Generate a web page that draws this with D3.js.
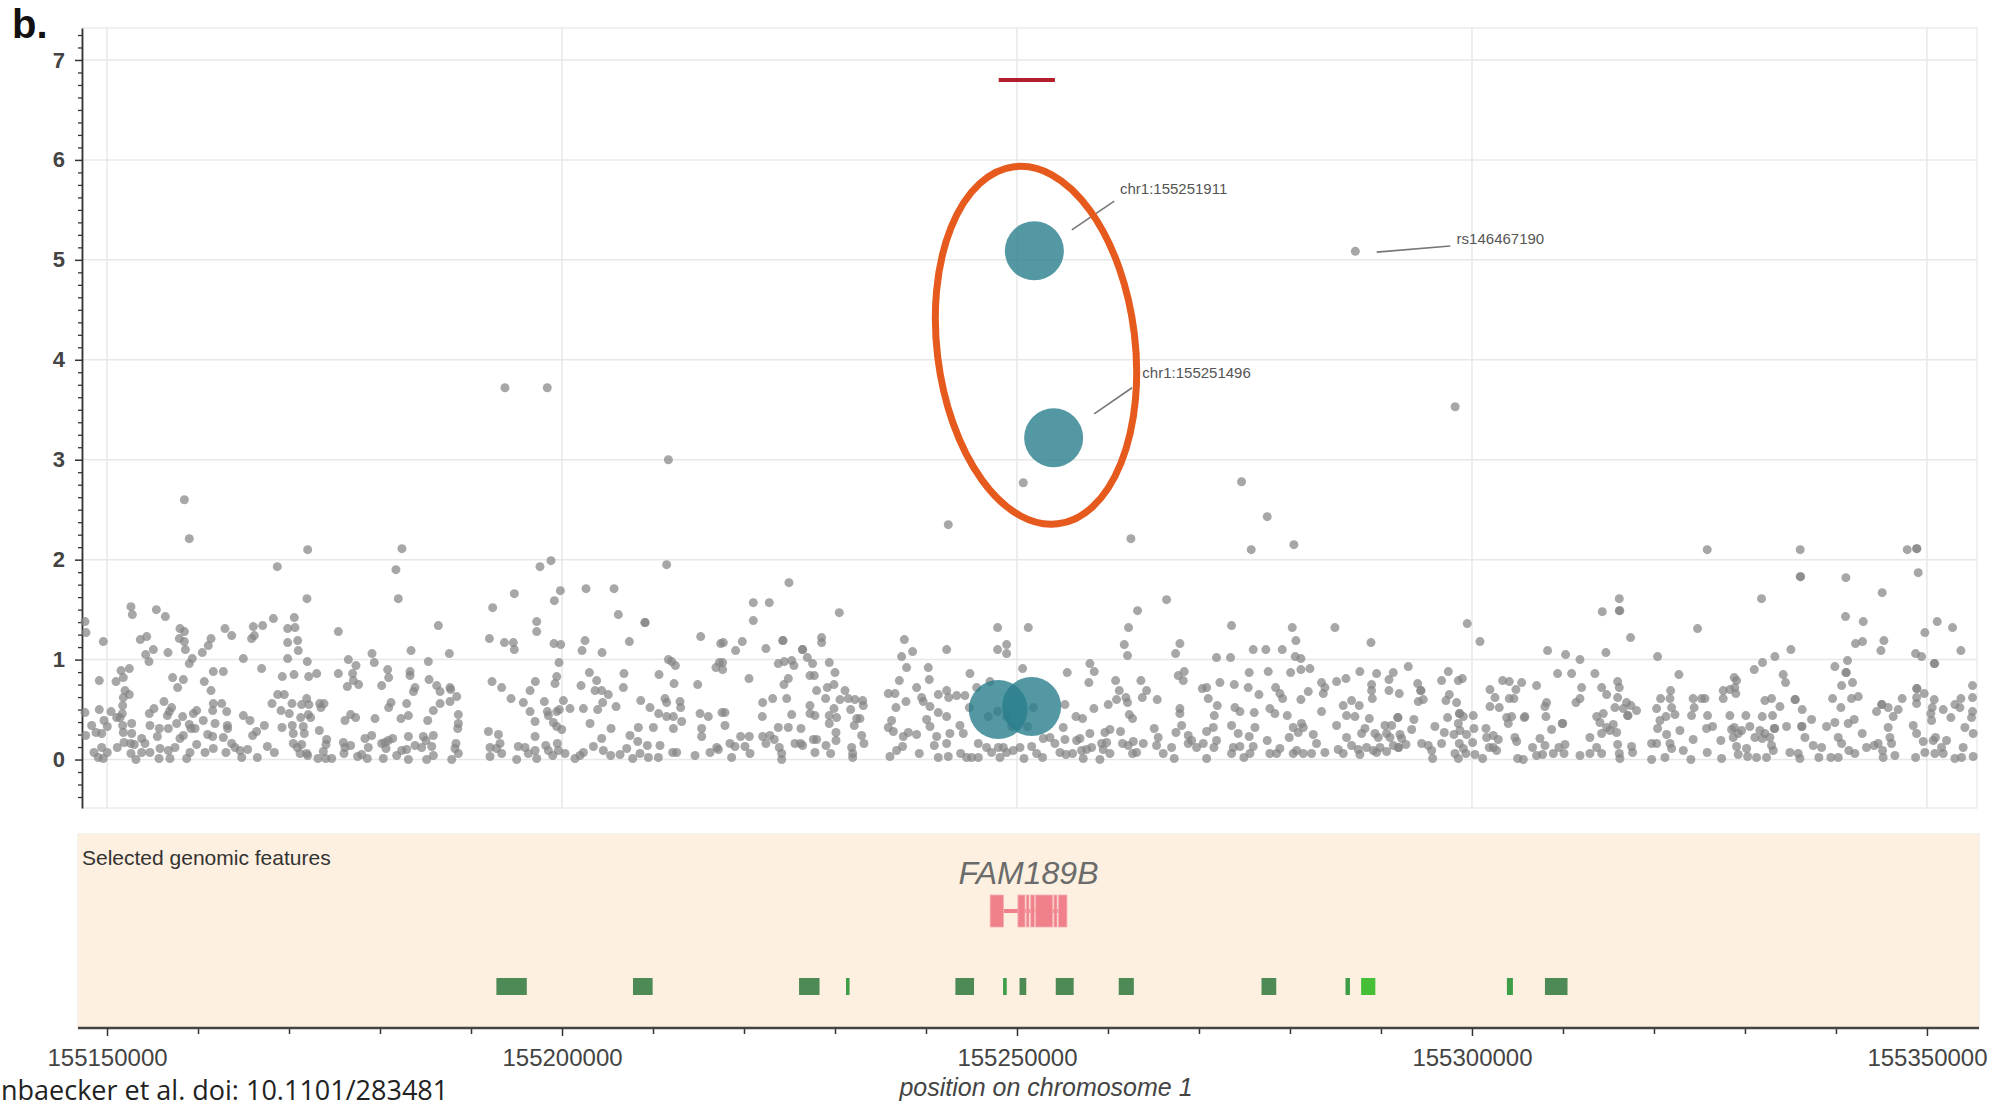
<!DOCTYPE html>
<html>
<head>
<meta charset="utf-8">
<script src="https://cdn.jsdelivr.net/npm/d3@7/dist/d3.min.js"></script>
<style>
  html, body { margin: 0; padding: 0; background: #ffffff; }
  svg { display: block; }
</style>
</head>
<body>
<svg id="chart" width="2005" height="1107"></svg>
<script>
// ---------------------------------------------------------------------------
// Data: association signal around FAM189B on chromosome 1.
// Positions are given in kb above 155,000,000 bp.
// ---------------------------------------------------------------------------
const KB_OFFSET = 155000;
const xDomainKb = [147.25, 355.5];
const yDomain = [-0.485, 7.32];
const xTickValues = [155150000, 155200000, 155250000, 155300000, 155350000];
const yTickValues = [0, 1, 2, 3, 4, 5, 6, 7];

// [position (kb), -log10 p] for every tested variant
const snpPoints = [
  [158.50,2.60],[159.04,2.21],[172.05,2.10],[168.71,1.93],[171.97,1.61],[182.41,2.11],[181.75,1.90],[182.01,1.61],
  [147.58,1.38],[147.69,1.27],[149.59,1.18],[152.63,1.53],[152.78,1.45],[155.42,1.50],[156.41,1.43],[153.66,1.20],
  [154.36,1.23],[154.25,1.05],[155.09,1.10],[154.61,0.98],[156.70,1.07],[158.02,1.31],[158.50,1.28],[157.95,1.21],
  [158.50,1.18],[158.61,1.10],[159.37,1.01],[159.04,0.96],[160.47,1.07],[161.13,1.14],[161.43,1.21],[162.96,1.31],
  [163.70,1.24],[164.98,1.01],[166.08,1.33],[165.89,1.21],[166.19,1.24],[167.10,1.34],[168.28,1.41],[169.85,1.31],
  [170.58,1.42],[170.66,1.32],[169.85,1.17],[170.95,1.19],[171.02,1.09],[169.85,1.01],[172.01,0.98],[175.42,1.28],
  [176.52,1.00],[177.36,0.94],[179.12,1.06],[179.37,0.97],[166.99,0.91],
  [149.15,0.79],[151.54,0.89],[152.45,0.91],[151.79,0.82],[150.99,0.78],[151.98,0.69],[152.45,0.65],[151.79,0.62],
  [151.72,0.54],[151.68,0.46],[151.43,0.42],[151.06,0.42],[150.44,0.48],[149.15,0.50],[147.58,0.47],[161.68,0.88],
  [162.78,0.88],[157.21,0.82],[158.39,0.80],[157.76,0.72],[160.69,0.78],[161.43,0.69],[161.68,0.56],[162.60,0.56],
  [156.26,0.58],[155.16,0.51],[154.65,0.46],[157.10,0.52],[156.85,0.48],[156.63,0.44],[159.85,0.49],[159.48,0.46],
  [161.61,0.49],[163.15,0.48],[164.98,0.44],[165.71,0.39],[169.26,0.83],[170.55,0.85],[168.75,0.65],[169.48,0.65],
  [168.13,0.56],[169.12,0.49],[170.33,0.56],[170.03,0.46],[171.39,0.55],[171.94,0.61],[172.19,0.55],[172.12,0.45],
  [171.28,0.42],[172.38,0.42],[173.04,0.86],[172.16,0.83],[175.42,0.86],[176.41,0.73],[176.99,0.86],[177.07,0.79],
  [177.65,0.75],[173.37,0.56],[173.84,0.56],[173.51,0.52],[180.18,0.74],[180.95,0.82],[180.84,0.90],[181.21,0.57],
  [180.95,0.52],[182.30,0.41],[179.45,0.41],[176.15,0.39],[176.77,0.45],[177.32,0.42],
  [147.65,0.24],[148.31,0.34],[148.79,0.27],[149.41,0.26],[149.67,0.39],[150.03,0.33],[148.57,0.07],[149.41,0.12],
  [149.04,0.02],[149.59,0.01],[150.03,0.07],[151.13,0.12],[151.72,0.34],[151.79,0.27],[152.71,0.36],[152.71,0.26],
  [151.87,0.17],[152.60,0.16],[153.00,0.15],[152.63,0.06],[153.18,0.00],[153.81,0.21],[154.17,0.16],[153.81,0.07],
  [154.72,0.07],[154.72,0.34],[155.53,0.23],[155.75,0.31],[155.82,0.11],[155.71,0.01],[156.74,0.31],[156.74,0.09],
  [156.92,0.01],[157.47,0.12],[157.65,0.36],[158.02,0.21],[158.39,0.24],[158.31,0.43],[159.04,0.35],[159.23,0.31],
  [159.67,0.31],[159.85,0.15],[159.12,0.07],[158.75,0.01],[160.58,0.39],[161.06,0.25],[161.61,0.23],[161.87,0.36],
  [162.78,0.22],[163.22,0.34],[163.26,0.31],[160.77,0.07],[161.68,0.11],[163.07,0.07],[163.70,0.16],[164.06,0.12],
  [164.61,0.09],[164.80,0.02],[165.45,0.10],[166.00,0.24],[166.44,0.28],[167.29,0.34],[166.52,0.02],[167.62,0.13],
  [168.39,0.07],[169.23,0.32],[170.36,0.34],[170.47,0.26],[171.57,0.33],[171.68,0.26],[170.47,0.16],[170.91,0.12],
  [171.39,0.15],[171.21,0.06],[171.94,0.06],[172.05,0.04],[173.33,0.29],[174.14,0.20],[174.06,0.15],[173.77,0.08],
  [173.18,0.01],[174.03,0.01],[174.69,0.01],[175.97,0.17],[176.15,0.12],[176.77,0.14],[176.04,0.06],[177.54,0.03],
  [177.98,0.05],[178.35,0.21],[179.08,0.24],[178.71,0.12],[178.60,0.01],[180.18,0.16],[180.55,0.17],[180.91,0.19],
  [181.39,0.21],[180.66,0.11],[180.36,0.01],[181.83,0.04],[182.38,0.09],
  [211.69,3.00],[193.73,3.72],[198.38,3.72],
  [197.58,1.93],[198.79,1.99],[211.50,1.95],[199.82,1.69],[199.16,1.59],[194.76,1.66],[192.38,1.52],[202.64,1.71],
  [205.72,1.71],[206.19,1.45],[209.10,1.37],[209.14,1.37],[186.41,1.34],[197.22,1.38],[197.22,1.28],[192.02,1.21],
  [193.67,1.17],[194.65,1.17],[194.76,1.10],[199.12,1.16],[199.86,1.15],[202.53,1.19],[202.20,1.09],[204.40,1.07],
  [207.40,1.18],[215.24,1.23],[217.44,1.16],[183.41,1.09],[187.62,1.06],[185.31,0.98],[199.67,0.97],[211.69,1.00],
  [212.05,0.98],[212.46,0.94],[216.92,0.92],[217.29,0.97],
  [183.30,0.88],[183.30,0.84],[185.39,0.80],[183.85,0.72],[183.67,0.68],[186.23,0.74],[186.60,0.68],[187.69,0.72],
  [187.77,0.70],[188.43,0.63],[187.69,0.58],[186.60,0.56],[185.86,0.49],[182.93,0.56],[183.12,0.44],[185.24,0.39],
  [192.31,0.78],[193.37,0.72],[194.40,0.61],[195.75,0.57],[196.49,0.69],[197.07,0.78],[198.06,0.58],[196.49,0.48],
  [197.04,0.38],[199.42,0.83],[199.23,0.76],[198.39,0.48],[198.50,0.44],[199.42,0.48],[199.71,0.50],[200.15,0.59],
  [200.88,0.51],[199.05,0.37],[199.42,0.33],[199.97,0.30],[202.09,0.74],[203.01,0.87],[203.81,0.79],[203.63,0.69],
  [204.36,0.69],[205.09,0.65],[206.81,0.86],[206.74,0.72],[202.35,0.51],[203.92,0.50],[204.47,0.57],[205.94,0.53],
  [203.08,0.36],[208.65,0.59],[209.67,0.52],[210.66,0.85],[212.31,0.76],[211.32,0.61],[211.50,0.57],[212.97,0.58],
  [213.04,0.52],[210.62,0.46],[211.50,0.43],[212.24,0.43],[213.15,0.38],[214.91,0.75],[215.17,0.46],[216.08,0.43],
  [217.58,0.47],
  [183.12,0.23],[183.85,0.14],[182.93,0.10],[183.12,0.00],[184.76,0.23],[185.06,0.19],[185.86,0.24],[184.58,0.12],
  [185.68,0.13],[185.13,0.00],[185.86,0.04],[188.61,0.45],[188.61,0.36],[188.54,0.31],[188.35,0.16],[188.24,0.11],
  [188.61,0.06],[187.88,0.00],[191.91,0.28],[193.01,0.25],[192.09,0.12],[193.19,0.16],[192.82,0.11],[192.09,0.03],
  [193.37,0.06],[195.02,0.00],[195.20,0.13],[195.94,0.12],[196.30,0.06],[197.04,0.23],[197.04,0.09],[197.22,0.01],
  [198.21,0.14],[198.50,0.09],[198.98,0.04],[199.49,0.16],[199.60,0.09],[200.33,0.06],[201.43,0.01],[201.98,0.04],
  [202.35,0.07],[203.45,0.13],[204.36,0.21],[204.54,0.09],[205.39,0.31],[205.35,0.04],[206.38,0.05],[207.11,0.11],
  [207.47,0.24],[207.77,0.01],[208.39,0.32],[208.32,0.18],[208.57,0.06],[209.49,0.02],[209.38,0.14],[210.04,0.32],
  [210.77,0.14],[210.59,0.02],[212.24,0.31],[212.16,0.07],[212.60,0.07],[214.62,0.04],[215.35,0.31],[215.35,0.23],
  [216.27,0.07],[217.00,0.12],[217.18,0.10],
  [250.69,2.77],[242.45,2.35],[224.94,1.77],[221.02,1.57],[222.78,1.57],[221.02,1.39],[230.47,1.47],[217.73,1.17],
  [219.08,1.09],[219.81,1.18],[222.41,1.11],[224.25,1.19],[224.30,1.19],[226.41,1.10],[226.45,1.10],[228.53,1.22],
  [228.53,1.17],[237.62,1.20],[237.32,1.03],[238.53,1.08],[242.27,1.10],[247.87,1.32],[251.24,1.32],[247.87,1.10],
  [248.86,1.15],[248.86,1.06],[217.65,0.97],[217.65,0.90],[223.77,0.96],[224.43,0.98],[225.24,0.99],[225.49,0.94],
  [226.96,1.02],[227.54,0.96],[229.37,0.97],[230.00,0.87],[227.25,0.84],[227.73,0.84],[220.55,0.81],[224.87,0.81],
  [224.39,0.75],[227.98,0.69],[229.15,0.72],[229.89,0.75],[231.10,0.69],[237.87,0.92],[240.25,0.92],[240.36,0.80],
  [237.07,0.79],[238.97,0.72],[244.83,0.86],[250.62,0.91],
  [222.05,0.57],[223.15,0.61],[224.69,0.61],[228.97,0.61],[230.55,0.60],[231.46,0.61],[232.20,0.60],[233.04,0.59],
  [233.11,0.54],[217.91,0.47],[222.01,0.43],[225.24,0.45],[227.25,0.54],[227.25,0.46],[227.80,0.44],[229.37,0.44],
  [229.89,0.51],[230.18,0.42],[231.72,0.50],[232.38,0.41],[232.74,0.41],[235.86,0.66],[236.59,0.66],[236.70,0.52],
  [237.80,0.58],[239.52,0.62],[239.70,0.58],[240.44,0.53],[241.35,0.65],[242.27,0.69],[242.49,0.62],[243.37,0.64],
  [244.28,0.64],[241.35,0.47],[242.27,0.43],[244.76,0.52],[245.57,0.72],[247.03,0.78],
  [217.91,0.34],[218.46,0.16],[219.01,0.13],[218.64,0.02],[219.63,0.23],[220.58,0.23],[220.11,0.13],[220.66,0.06],
  [222.05,0.23],[222.85,0.24],[222.41,0.16],[223.33,0.20],[223.88,0.12],[223.77,0.32],[224.14,0.06],[224.14,0.00],
  [224.87,0.32],[225.60,0.16],[226.26,0.31],[226.22,0.16],[226.44,0.14],[227.62,0.20],[227.98,0.20],[227.80,0.07],
  [229.01,0.14],[229.37,0.36],[229.52,0.06],[230.11,0.27],[230.11,0.19],[231.83,0.12],[231.94,0.06],[231.94,0.02],
  [232.93,0.24],[233.18,0.16],[232.12,0.34],[235.86,0.32],[236.22,0.39],[236.41,0.28],[236.04,0.03],[236.77,0.09],
  [237.43,0.13],[237.51,0.23],[238.06,0.27],[238.97,0.25],[239.26,0.06],[240.07,0.40],[240.44,0.33],[240.91,0.14],
  [241.17,0.23],[241.35,0.02],[242.45,0.03],[242.63,0.26],[242.27,0.16],[243.73,0.34],[244.10,0.26],[243.81,0.06],
  [244.47,0.02],[245.02,0.02],[245.75,0.02],[245.75,0.16],[246.66,0.12],[247.21,0.07],[247.95,0.12],[248.50,0.12],
  [248.86,0.07],[248.13,0.02],[249.59,0.09],[250.33,0.12],[250.77,0.01],[251.61,0.13],[252.16,0.06],[246.85,0.43],
  [247.87,0.48],[248.86,0.43],[249.41,0.33],[251.17,0.33],[251.79,0.52],
  [274.68,2.78],[277.50,2.43],[275.74,2.10],[280.43,2.15],[262.52,2.21],[266.44,1.60],[263.25,1.49],[262.26,1.32],
  [273.58,1.34],[280.25,1.32],[284.94,1.32],[261.79,1.15],[262.15,1.04],[267.90,1.16],[267.43,1.06],[275.96,1.10],
  [277.35,1.10],[279.15,1.10],[280.65,1.19],[271.93,1.02],[273.47,1.02],[280.58,1.03],[281.20,1.01],[258.01,0.96],
  [258.49,0.88],[255.52,0.87],[275.52,0.87],[277.61,0.88],[280.07,0.87],[281.20,0.90],[282.19,0.91],[287.68,0.88],
  [257.90,0.77],[260.84,0.79],[261.24,0.69],[263.62,0.79],[264.24,0.69],[263.77,0.62],[260.94,0.60],[261.97,0.62],
  [262.15,0.57],[265.41,0.60],[260.03,0.55],[258.45,0.51],[255.27,0.55],[267.72,0.84],[268.27,0.79],[268.38,0.88],
  [270.36,0.71],[270.84,0.72],[272.30,0.77],[273.88,0.75],[275.41,0.72],[276.59,0.65],[278.42,0.72],[278.89,0.66],
  [279.19,0.61],[281.20,0.60],[282.01,0.68],[283.47,0.77],[283.84,0.72],[283.66,0.66],[285.12,0.78],[286.15,0.81],
  [271.02,0.61],[272.01,0.54],[267.90,0.51],[267.90,0.46],[262.34,0.45],[262.70,0.41],[256.48,0.43],[257.21,0.41],
  [271.68,0.44],[273.95,0.52],[274.50,0.48],[276.07,0.47],[277.79,0.51],[278.34,0.46],[279.70,0.44],[283.47,0.48],
  [285.85,0.54],[286.77,0.59],[286.22,0.44],[287.14,0.43],[287.61,0.54],
  [252.89,0.21],[253.62,0.22],[254.17,0.16],[255.08,0.32],[255.27,0.20],[254.72,0.07],[255.38,0.05],[256.11,0.06],
  [252.81,0.02],[256.55,0.19],[256.92,0.21],[257.10,0.09],[258.01,0.26],[258.20,0.12],[257.65,0.10],[257.28,0.01],
  [259.11,0.00],[259.30,0.16],[259.66,0.27],[260.21,0.30],[259.85,0.17],[260.21,0.06],[259.48,0.10],[261.38,0.28],
  [261.60,0.16],[262.23,0.14],[262.78,0.18],[263.14,0.07],[262.70,0.06],[263.88,0.16],[265.08,0.31],[265.52,0.22],
  [265.34,0.14],[266.07,0.06],[266.99,0.12],[267.28,0.01],[267.47,0.27],[268.09,0.34],[268.82,0.24],[268.82,0.16],
  [269.74,0.12],[269.19,0.19],[270.47,0.16],[270.84,0.01],[270.84,0.28],[271.57,0.32],[271.93,0.19],[271.64,0.12],
  [273.58,0.34],[274.31,0.26],[273.77,0.12],[273.58,0.06],[274.50,0.13],[274.94,0.02],[275.52,0.23],[275.60,0.06],
  [276.15,0.32],[275.96,0.13],[277.50,0.19],[277.79,0.06],[278.89,0.11],[278.53,0.06],[279.92,0.22],[280.36,0.32],
  [280.91,0.27],[281.27,0.36],[281.46,0.32],[280.36,0.06],[280.73,0.09],[281.46,0.06],[282.56,0.25],[282.37,0.06],
  [282.92,0.16],[283.84,0.07],[285.30,0.10],[285.85,0.06],[285.12,0.34],[286.22,0.22],[286.77,0.14],[287.50,0.10],
  [287.68,0.05],
  [287.18,5.085],[298.15,3.53],
  [316.19,1.61],[316.19,1.49],[316.25,1.49],[314.32,1.48],[317.43,1.22],[299.48,1.36],[300.88,1.18],[288.90,1.17],
  [308.31,1.09],[310.29,1.05],[311.87,1.00],[314.72,1.07],[320.40,1.03],[293.00,0.93],[289.52,0.86],[291.35,0.87],
  [297.40,0.88],[296.66,0.79],[298.50,0.79],[298.94,0.81],[288.97,0.75],[288.97,0.69],[289.05,0.61],[290.88,0.69],
  [290.88,0.80],[292.01,0.66],[294.03,0.76],[294.36,0.69],[294.40,0.69],[294.10,0.58],[294.65,0.60],[297.51,0.65],
  [297.14,0.59],[298.31,0.57],[303.37,0.79],[304.10,0.78],[305.46,0.77],[304.83,0.70],[301.98,0.70],[302.53,0.62],
  [304.10,0.61],[304.61,0.61],[301.98,0.53],[303.00,0.52],[307.10,0.74],[309.41,0.86],[310.95,0.86],[313.51,0.86],
  [312.05,0.72],[311.87,0.61],[311.43,0.57],[314.25,0.72],[314.80,0.65],[316.01,0.78],[316.19,0.72],[316.01,0.62],
  [316.99,0.57],[317.47,0.54],[318.09,0.49],[315.71,0.52],[316.63,0.51],[317.10,0.44],[317.15,0.44],[308.02,0.53],
  [308.20,0.57],[308.13,0.43],[305.75,0.42],[303.81,0.42],[304.36,0.43],[303.99,0.36],[313.70,0.43],[314.06,0.37],
  [314.43,0.46],[320.29,0.51],[320.73,0.61],[321.83,0.69],[321.76,0.61],[321.94,0.52],[322.31,0.45],[322.74,0.85],
  [321.32,0.43],[320.66,0.39],
  [288.72,0.41],[288.24,0.31],[287.87,0.26],[289.34,0.26],[289.70,0.22],[290.44,0.34],[290.62,0.26],[291.17,0.34],
  [290.99,0.22],[291.83,0.42],[291.88,0.42],[292.09,0.25],[292.27,0.21],[293.62,0.40],[293.37,0.30],[292.74,0.15],
  [291.90,0.12],[291.95,0.12],[291.35,0.14],[289.16,0.09],[288.42,0.12],[289.89,0.12],[290.62,0.08],[289.52,0.07],
  [294.47,0.16],[295.20,0.14],[295.57,0.09],[295.68,0.01],[296.66,0.16],[295.93,0.33],[296.96,0.27],[297.32,0.42],
  [298.02,0.25],[298.61,0.46],[298.66,0.46],[299.05,0.43],[298.50,0.36],[298.68,0.29],[299.41,0.25],[298.61,0.16],
  [299.05,0.11],[298.50,0.01],[298.13,0.06],[299.34,0.06],[300.14,0.44],[300.22,0.31],[300.07,0.17],[300.33,0.05],
  [301.17,0.01],[301.54,0.31],[301.61,0.22],[302.34,0.24],[302.34,0.12],[302.71,0.09],[301.90,0.12],[302.89,0.20],
  [304.72,0.22],[304.91,0.18],[305.02,0.01],[305.64,0.00],[305.82,0.43],[306.66,0.12],[307.47,0.21],[307.10,0.04],
  [307.76,0.05],[308.02,0.14],[308.75,0.30],[308.94,0.06],[309.56,0.12],[309.92,0.36],[309.97,0.36],[310.22,0.15],
  [310.11,0.06],[311.87,0.04],[312.96,0.22],[312.96,0.06],[313.70,0.12],[314.25,0.06],[314.25,0.26],[314.80,0.32],
  [315.16,0.29],[315.53,0.35],[315.90,0.27],[316.01,0.15],[316.19,0.06],[316.26,0.01],[317.54,0.13],[317.65,0.07],
  [319.74,0.16],[320.29,0.16],[319.74,0.00],[320.40,0.31],[321.39,0.25],[321.76,0.16],[321.21,0.02],[321.94,0.11],
  [322.85,0.29],
  [325.85,2.10],[336.07,2.10],[347.83,2.10],[348.86,2.11],[348.90,2.11],[336.07,1.83],[336.12,1.83],[341.09,1.82],
  [349.04,1.87],[331.82,1.61],[345.08,1.67],[341.05,1.43],[343.00,1.38],[324.79,1.31],[351.13,1.38],[352.81,1.32],
  [349.77,1.27],[342.15,1.16],[342.92,1.18],[345.27,1.19],[344.94,1.09],[335.05,1.10],[333.29,1.03],[331.93,0.97],
  [331.02,0.90],[353.73,1.09],[348.75,1.06],[349.41,1.03],[341.27,0.99],[339.88,0.93],[341.09,0.87],[341.14,0.87],
  [350.80,0.96],[350.85,0.96],[328.82,0.82],[329.08,0.79],[328.89,0.72],[329.00,0.66],[327.61,0.69],[328.34,0.70],
  [327.61,0.61],[324.31,0.61],[325.23,0.61],[325.60,0.61],[334.20,0.85],[334.46,0.77],[332.19,0.59],[332.92,0.61],
  [333.84,0.53],[335.49,0.60],[335.54,0.60],[336.29,0.50],[340.62,0.74],[341.82,0.77],[341.71,0.61],[342.45,0.63],
  [339.63,0.61],[340.54,0.52],[345.01,0.55],[345.06,0.55],[345.74,0.52],[344.46,0.48],[346.29,0.43],[346.84,0.50],
  [347.28,0.61],[348.86,0.71],[348.91,0.71],[349.70,0.66],[348.86,0.62],[348.86,0.56],[350.80,0.60],[350.58,0.52],
  [350.43,0.46],[350.51,0.39],[351.79,0.50],[352.63,0.42],[353.07,0.55],[353.73,0.61],[353.62,0.52],[355.01,0.74],
  [355.01,0.62],[355.01,0.48],[354.90,0.42],[324.42,0.52],[324.13,0.44],[325.89,0.44],[328.34,0.44],[330.10,0.44],
  [331.90,0.43],[333.03,0.44],
  [324.31,0.20],[323.22,0.09],[324.06,0.00],[325.78,0.31],[326.44,0.33],[325.85,0.07],[327.35,0.19],[327.43,0.01],
  [328.53,0.30],[328.82,0.32],[329.26,0.26],[328.71,0.22],[329.63,0.29],[330.54,0.33],[329.08,0.13],[329.26,0.05],
  [330.18,0.11],[330.29,0.03],[331.09,0.22],[331.64,0.29],[331.90,0.21],[332.19,0.26],[332.74,0.22],[332.92,0.14],
  [333.22,0.31],[333.27,0.31],[333.11,0.09],[332.37,0.02],[331.27,0.02],[334.57,0.33],[334.94,0.07],[335.85,0.06],
  [336.04,0.01],[336.22,0.33],[336.27,0.33],[336.59,0.22],[337.32,0.40],[337.50,0.14],[338.42,0.12],[338.12,0.02],
  [338.97,0.33],[339.88,0.37],[340.25,0.22],[340.62,0.16],[339.44,0.02],[340.25,0.02],[341.35,0.36],[342.01,0.40],
  [341.42,0.09],[342.08,0.06],[342.89,0.26],[343.36,0.12],[344.20,0.14],[344.64,0.16],[345.12,0.09],[345.19,0.02],
  [345.74,0.32],[345.93,0.22],[346.11,0.16],[346.48,0.04],[348.49,0.34],[348.86,0.26],[348.75,0.02],[349.59,0.18],
  [349.77,0.07],[350.69,0.19],[350.94,0.22],[350.87,0.06],[351.60,0.12],[351.79,0.06],[352.15,0.19],[353.07,0.01],
  [353.80,0.02],[353.98,0.12],[354.17,0.32],[355.08,0.26],[355.08,0.03]
];

// Highlighted variants (drawn as large markers)
const leadVariantPosKb = [251.91, 254.03, 247.94, 251.61];
const leadVariantLogP = [5.09, 3.22, 0.50, 0.53];

// Variant name labels
const labelTexts = ["chr1:155251911", "chr1:155251496", "rs146467190"];
const labelPosKb = [251.91, 254.03, 287.18];
const labelLogP = [5.09, 3.22, 5.085];

// Significance marker segment
const thresholdSpanKb = [247.99, 254.17];
const thresholdLogP = 6.8;

// Highlight ring around the lead signal: centre, half-extents
const ringCentreKb = 252.09, ringCentreLogP = 4.145;
const ringHalfWidthKb = 10.88, ringHalfHeightLogP = 1.80;

// Gene model (exons in kb)
const geneName = "FAM189B";
const geneExonsKb = [[247.05,248.52],[250.10,250.88],[251.02,251.32],[251.51,251.91],[252.05,253.92],[254.06,254.40],[254.56,255.49]];

// Regulatory feature track: start kb, end kb, class
const featureStartKb = [192.79, 207.80, 226.05, 231.21, 243.23, 248.47, 250.28, 254.26, 261.18, 276.87, 286.10, 287.82, 303.84, 308.02];
const featureEndKb   = [196.13, 209.96, 228.30, 231.60, 245.28, 248.87, 251.02, 256.23, 262.84, 278.49, 286.59, 289.38, 304.50, 310.50];
const featureClass   = ["region","region","region","site","region","site","region","region","region","region","site","promoter","site","region"];

// ---------------------------------------------------------------------------
const svg = d3.select("#chart");
const toBp = kb => (KB_OFFSET + kb) * 1000;

const plot = { left: 82, right: 1977, top: 28, bottom: 808 };
const x = d3.scaleLinear().domain(xDomainKb.map(toBp)).range([plot.left, plot.right]);
const y = d3.scaleLinear().domain(yDomain).range([plot.bottom, plot.top]);

const FONT = "'Liberation Sans', Arial, Helvetica, sans-serif";

// Panel letter
svg.append("text").attr("x", 12).attr("y", 38)
  .attr("font-family", FONT).attr("font-weight", "bold").attr("font-size", 40)
  .attr("fill", "#111").text("b.");

// Plot frame
svg.append("rect")
  .attr("x", plot.left).attr("y", plot.top)
  .attr("width", plot.right - plot.left).attr("height", plot.bottom - plot.top)
  .attr("fill", "#fff").attr("stroke", "#ececec").attr("stroke-width", 1.5);

// Grid
const grid = svg.append("g");
grid.selectAll("line.h").data(yTickValues).join("line")
  .attr("x1", plot.left).attr("x2", plot.right)
  .attr("y1", d => y(d)).attr("y2", d => y(d))
  .attr("stroke", "#e8e8e8").attr("stroke-width", 1.5);
grid.selectAll("line.v").data(xTickValues).join("line")
  .attr("y1", plot.top).attr("y2", plot.bottom)
  .attr("x1", d => x(d)).attr("x2", d => x(d))
  .attr("stroke", "#e8e8e8").attr("stroke-width", 1.5);

// Y axis: major and minor ticks
const minorY = d3.range(-3, 59).map(i => i * 0.125).filter(v => v >= yDomain[0] && v <= yDomain[1] && Math.abs(v - Math.round(v)) > 1e-6);
const yMinor = svg.append("g").attr("transform", `translate(${plot.left},0)`)
  .call(d3.axisLeft(y).tickValues(minorY).tickSize(4).tickSizeOuter(0).tickFormat(""));
yMinor.select(".domain").remove();
yMinor.selectAll("line").attr("stroke", "#333").attr("stroke-width", 1.3);

const yAxis = svg.append("g").attr("transform", `translate(${plot.left},0)`)
  .call(d3.axisLeft(y).tickValues(yTickValues).tickSize(7).tickSizeOuter(0).tickPadding(10).tickFormat(d3.format("d")));
yAxis.select(".domain").attr("stroke", "#333").attr("stroke-width", 1.8);
yAxis.selectAll(".tick line").attr("stroke", "#333").attr("stroke-width", 1.5);
yAxis.selectAll(".tick text")
  .attr("font-family", FONT).attr("font-size", 22).attr("font-weight", "bold").attr("fill", "#444");

// Variant points
svg.append("g").selectAll("circle").data(snpPoints).join("circle")
  .attr("cx", d => x(toBp(d[0]))).attr("cy", d => y(d[1])).attr("r", 4.5)
  .attr("fill", "#858585").attr("fill-opacity", 0.72);

// Threshold segment
svg.append("line")
  .attr("x1", x(toBp(thresholdSpanKb[0]))).attr("x2", x(toBp(thresholdSpanKb[1])))
  .attr("y1", y(thresholdLogP)).attr("y2", y(thresholdLogP))
  .attr("stroke", "#b3202c").attr("stroke-width", 4);

// Lead variants
svg.append("g").selectAll("circle").data(d3.range(leadVariantPosKb.length)).join("circle")
  .attr("cx", i => x(toBp(leadVariantPosKb[i]))).attr("cy", i => y(leadVariantLogP[i])).attr("r", 29.5)
  .attr("fill", "#297e8c").attr("fill-opacity", 0.8);

// Labels with leader lines (offsets in px relative to the marker)
const labelLayout = [
  { x1: 37.5, y1: -20.9, x2: 79.9, y2: -49.8, tx: 85.6, ty: -56.5 },
  { x1: 40.5, y1: -23.9, x2: 78.4, y2: -50.0, tx: 88.7, ty: -59.5 },
  { x1: 21.4, y1: 0.8,   x2: 95.0, y2: -5.3,  tx: 101.3, ty: -7.0 }
];
const labels = svg.append("g");
labelTexts.forEach((t, i) => {
  const px = x(toBp(labelPosKb[i])), py = y(labelLogP[i]);
  const L = labelLayout[i];
  labels.append("line")
    .attr("x1", px + L.x1).attr("y1", py + L.y1).attr("x2", px + L.x2).attr("y2", py + L.y2)
    .attr("stroke", "#777").attr("stroke-width", 1.6);
  labels.append("text").attr("x", px + L.tx).attr("y", py + L.ty)
    .attr("font-family", FONT).attr("font-size", 15).attr("fill", "#555").text(t);
});

// Highlight ring
const rcx = x(toBp(ringCentreKb)), rcy = y(ringCentreLogP);
const rrx = x(toBp(ringCentreKb + ringHalfWidthKb)) - rcx;
const rry = rcy - y(ringCentreLogP + ringHalfHeightLogP);
svg.append("ellipse")
  .attr("cx", 0).attr("cy", 0).attr("rx", rrx).attr("ry", rry)
  .attr("transform", `translate(${rcx},${rcy}) rotate(-7)`)
  .attr("fill", "none").attr("stroke", "#e65a1e").attr("stroke-width", 7);

// ---------------------------------------------------------------------------
// Genomic features panel
// ---------------------------------------------------------------------------
const panel = { left: 78, right: 1979, top: 834, bottom: 1028 };
svg.append("rect")
  .attr("x", panel.left).attr("y", panel.top)
  .attr("width", panel.right - panel.left).attr("height", panel.bottom - panel.top)
  .attr("fill", "#fdf0e0").attr("stroke", "#f6eee6").attr("stroke-width", 1.5);

svg.append("text").attr("x", 82).attr("y", 865)
  .attr("font-family", FONT).attr("font-size", 21).attr("fill", "#333")
  .text("Selected genomic features");

// Gene model
const geneTop = 895, geneH = 32;
const geneStart = d3.min(geneExonsKb, d => d[0]), geneEnd = d3.max(geneExonsKb, d => d[1]);
svg.append("text")
  .attr("x", (x(toBp(geneStart)) + x(toBp(geneEnd))) / 2).attr("y", 884)
  .attr("text-anchor", "middle").attr("font-family", FONT).attr("font-style", "italic")
  .attr("font-size", 32).attr("fill", "#6b6b6b").text(geneName);
svg.append("line")
  .attr("x1", x(toBp(geneStart))).attr("x2", x(toBp(geneEnd)))
  .attr("y1", geneTop + geneH / 2).attr("y2", geneTop + geneH / 2)
  .attr("stroke", "#f0808a").attr("stroke-width", 4);
svg.append("g").selectAll("rect").data(geneExonsKb).join("rect")
  .attr("x", d => x(toBp(d[0]))).attr("width", d => Math.max(1, x(toBp(d[1])) - x(toBp(d[0]))))
  .attr("y", geneTop).attr("height", geneH)
  .attr("fill", "#f0808a").attr("stroke", "#f6b0b4").attr("stroke-width", 0.8);

// Regulatory features
const featureColour = { region: "#4e8a55", site: "#3e9e48", promoter: "#46bf36" };
svg.append("g").selectAll("rect").data(d3.range(featureStartKb.length)).join("rect")
  .attr("x", i => x(toBp(featureStartKb[i])))
  .attr("width", i => Math.max(3, x(toBp(featureEndKb[i])) - x(toBp(featureStartKb[i]))))
  .attr("y", 978).attr("height", 17)
  .attr("fill", i => featureColour[featureClass[i]]);

// Bottom x axis
const minorX = d3.range(155150000, 155355001, 10000).filter(v => xTickValues.indexOf(v) < 0);
const xMinor = svg.append("g").attr("transform", `translate(0,${panel.bottom})`)
  .call(d3.axisBottom(x).tickValues(minorX).tickSize(6).tickSizeOuter(0).tickFormat(""));
xMinor.select(".domain").remove();
xMinor.selectAll("line").attr("stroke", "#333").attr("stroke-width", 1.5);

const xAxis = svg.append("g").attr("transform", `translate(0,${panel.bottom})`)
  .call(d3.axisBottom(x).tickValues(xTickValues).tickSize(8).tickSizeOuter(0).tickFormat(d3.format("d")));
xAxis.select(".domain").attr("d", `M${panel.left},0H${panel.right}`).attr("stroke", "#444").attr("stroke-width", 2.5);
xAxis.selectAll(".tick line").attr("stroke", "#333").attr("stroke-width", 1.5);
xAxis.selectAll(".tick text")
  .attr("y", 21)
  .attr("font-family", FONT).attr("font-size", 24).attr("fill", "#444");

svg.append("text").attr("x", 1046).attr("y", 1096)
  .attr("text-anchor", "middle").attr("font-family", FONT).attr("font-style", "italic")
  .attr("font-size", 25).attr("fill", "#444").text("position on chromosome 1");

// Source line
svg.append("text").attr("x", 1).attr("y", 1100)
  .attr("font-family", "'Open Sans', 'Noto Sans', sans-serif").attr("font-size", 27).attr("fill", "#222")
  .text("nbaecker et al. doi: 10.1101/283481");
</script>
</body>
</html>
